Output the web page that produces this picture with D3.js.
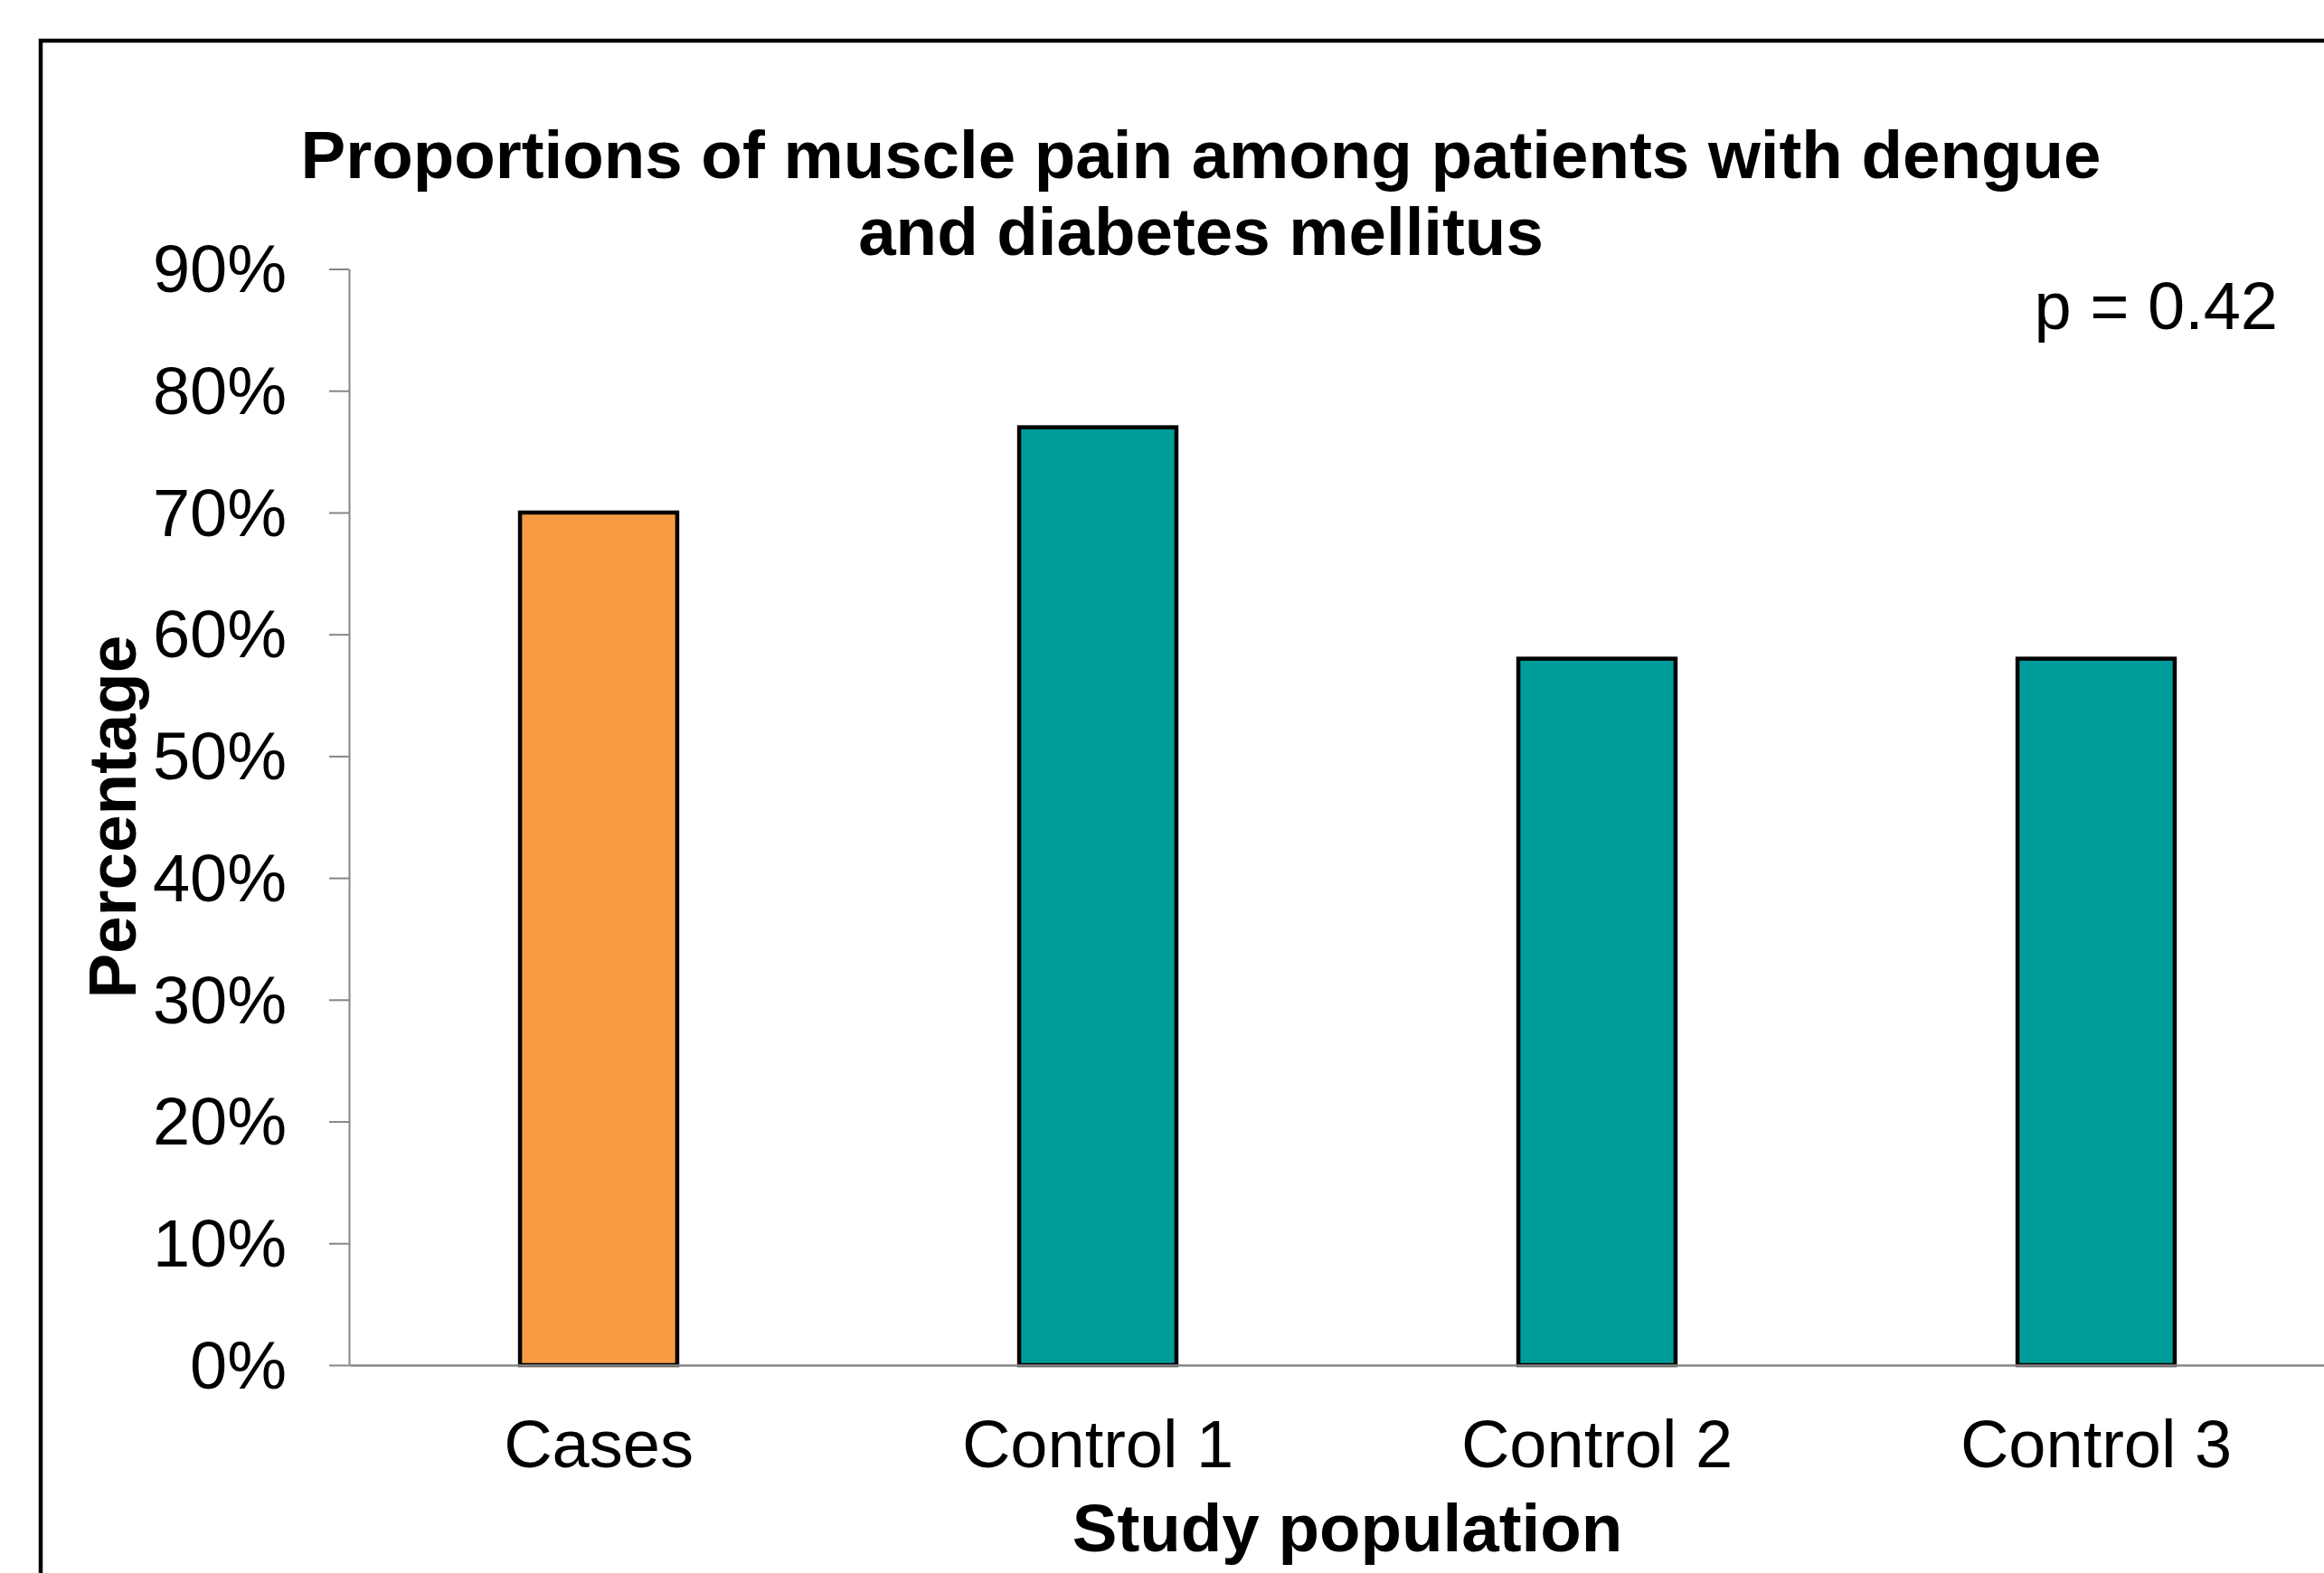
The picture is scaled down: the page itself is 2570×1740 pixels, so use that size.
<!DOCTYPE html>
<html>
<head>
<meta charset="utf-8">
<script src="https://cdn.jsdelivr.net/npm/d3@7"></script>
<style>
  html, body { margin: 0; padding: 0; background: #fff; overflow: hidden; }
  svg { display: block; font-family: "Liberation Sans", Arial, sans-serif; }
</style>
</head>
<body>
<svg id="chart" width="2570" height="1740"></svg>
<script>
// ---- Data ----
const categories = ["Cases", "Control 1", "Control 2", "Control 3"];
const values = [0.70, 0.77, 0.58, 0.58];
const barColors = ["#F79B43", "#009C99", "#009C99", "#009C99"];
const yTicks = [0, 0.1, 0.2, 0.3, 0.4, 0.5, 0.6, 0.7, 0.8, 0.9];
const titleLines = ["Proportions of muscle pain among patients with dengue", "and diabetes mellitus"];
const xTitle = "Study population";
const yTitle = "Percentage";
const annotation = "p = 0.42";

// ---- Layout ----
const W = 2570, H = 1740;
const plot = { left: 386, right: 2594, top: 297.5, bottom: 1510 };

const svg = d3.select("#chart");

// Outer frame (extends past the picture on right and bottom)
svg.append("rect")
  .attr("x", 45).attr("y", 45)
  .attr("width", W + 100).attr("height", H + 100)
  .attr("fill", "none").attr("stroke", "#000").attr("stroke-width", 4.5);

const x = d3.scaleBand().domain(categories).range([plot.left, plot.right]).padding(0);
const y = d3.scaleLinear().domain([0, 0.9]).range([plot.bottom, plot.top]);
const barW = x.bandwidth() * 0.315;

// Bars
svg.append("g").selectAll("rect")
  .data(categories)
  .join("rect")
  .attr("x", (d) => x(d) + x.bandwidth() / 2 - barW / 2)
  .attr("y", (d, i) => y(values[i]))
  .attr("width", barW)
  .attr("height", (d, i) => y(0) - y(values[i]))
  .attr("fill", (d, i) => barColors[i])
  .attr("stroke", "#000")
  .attr("stroke-width", 4.5);

// Y axis
const yAxis = svg.append("g")
  .attr("transform", `translate(${plot.left},0)`)
  .call(d3.axisLeft(y).tickValues(yTicks).tickFormat(d3.format(".0%")).tickSize(22).tickSizeOuter(0).tickPadding(47));
yAxis.select(".domain").attr("stroke", "#868686").attr("stroke-width", 2);
yAxis.selectAll(".tick line").attr("stroke", "#868686").attr("stroke-width", 2);
yAxis.selectAll(".tick text")
  .attr("font-size", 74).attr("fill", "#000")
  .attr("font-family", "Liberation Sans, Arial, sans-serif")
  .attr("dy", "0.34em");

// X axis
const xAxis = svg.append("g")
  .attr("transform", `translate(0,${plot.bottom})`)
  .call(d3.axisBottom(x).tickSize(0).tickSizeOuter(0).tickPadding(0));
xAxis.select(".domain").attr("stroke", "#868686").attr("stroke-width", 2.5);
xAxis.selectAll(".tick text")
  .attr("font-size", 74).attr("fill", "#000")
  .attr("font-family", "Liberation Sans, Arial, sans-serif")
  .attr("y", 113).attr("dy", 0);

// Title
svg.append("text")
  .attr("text-anchor", "middle")
  .attr("font-size", 74.5).attr("font-weight", "bold")
  .selectAll("tspan")
  .data(titleLines)
  .join("tspan")
  .attr("x", 1328)
  .attr("y", (d, i) => 197 + i * 85)
  .text((d) => d);

// Axis titles
svg.append("text")
  .attr("text-anchor", "middle")
  .attr("font-size", 74.5).attr("font-weight", "bold")
  .attr("x", (plot.left + plot.right) / 2).attr("y", 1716)
  .text(xTitle);

svg.append("text")
  .attr("text-anchor", "middle")
  .attr("font-size", 74.5).attr("font-weight", "bold")
  .attr("transform", `translate(150,${(plot.top + plot.bottom) / 2}) rotate(-90)`)
  .text(yTitle);

// Annotation
svg.append("text")
  .attr("text-anchor", "end")
  .attr("font-size", 74)
  .attr("x", 2519).attr("y", 364)
  .text(annotation);
</script>
</body>
</html>
